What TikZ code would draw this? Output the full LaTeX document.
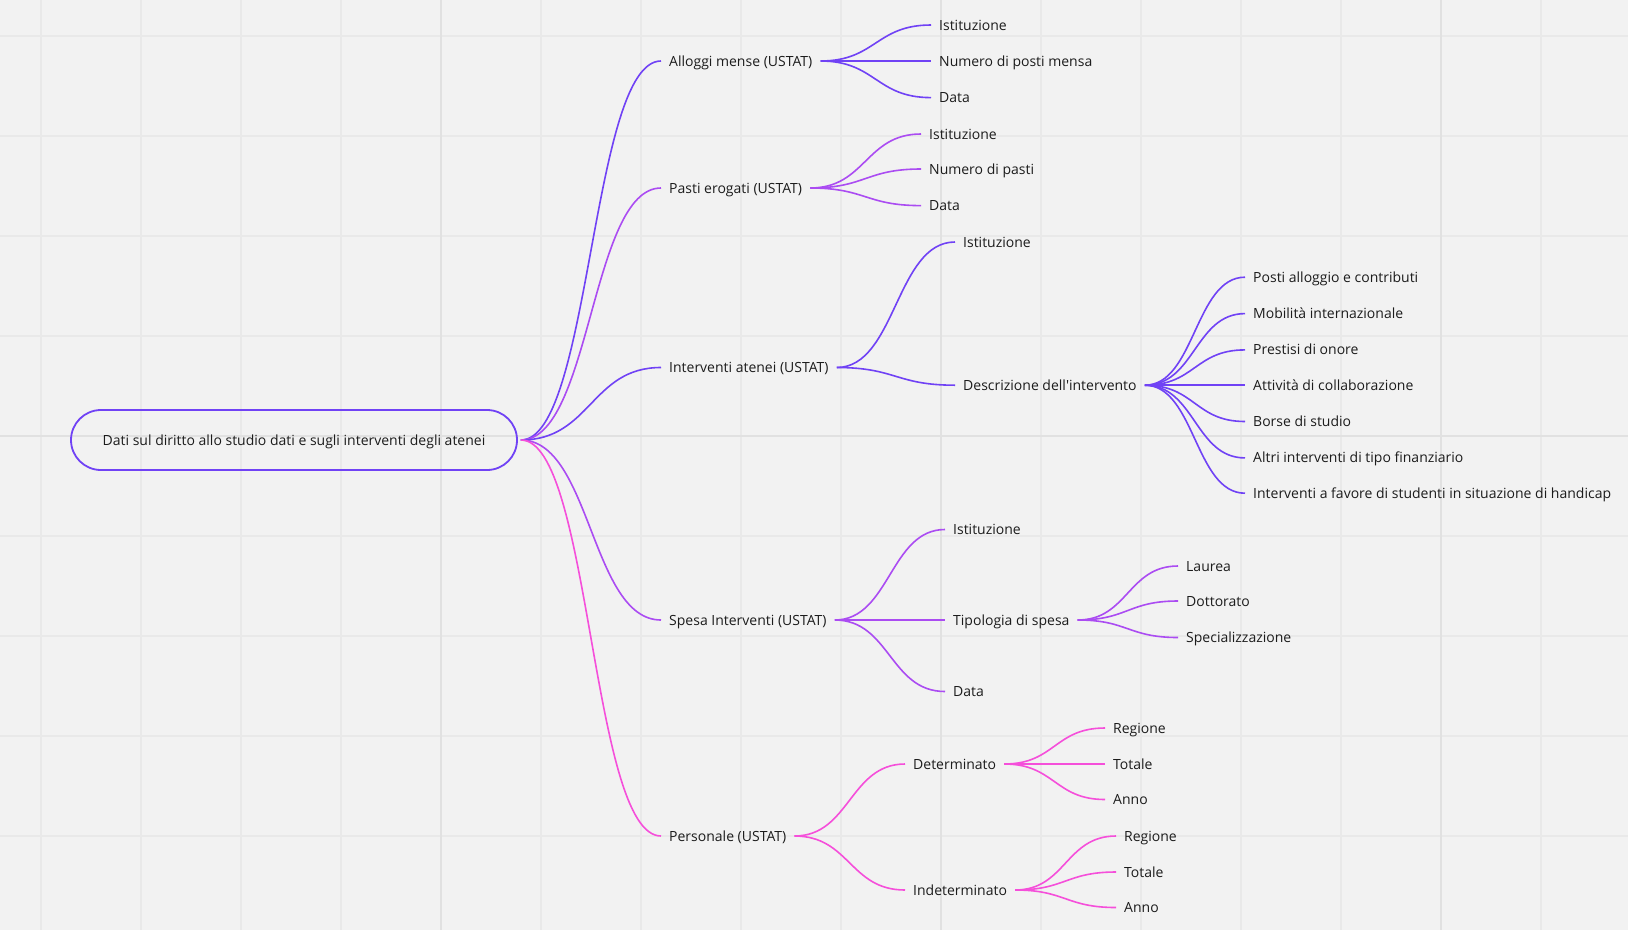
\documentclass[tikz,border=0pt]{standalone}
\usepackage{fontspec}
\setmainfont{Open Sans}
\usetikzlibrary{calc}

\definecolor{sfondo}{HTML}{F2F2F2}
\definecolor{rigalieve}{HTML}{E9E9E9}
\definecolor{rigaforte}{HTML}{E1E1E1}
\definecolor{testo}{HTML}{1C1C1C}
\definecolor{viola}{HTML}{7042F5}
\definecolor{lilla}{HTML}{AB4CF2}
\definecolor{rosa}{HTML}{F54FDA}

\tikzset{
  voce/.style={anchor=west, inner xsep=8pt, inner ysep=2pt, text=testo,
    font=\fontsize{14}{17}\selectfont, text height=10pt, text depth=0pt},
  radice/.style={draw=viola, line width=1.8pt, rounded corners=30pt,
    minimum width=446pt, minimum height=60pt, text=testo,
    font=\fontsize{14}{17}\selectfont, text height=10pt, text depth=0pt},
  ramo/.style={line width=1.6pt, to path={let \p1=(\tikztostart), \p2=(\tikztotarget) in
    .. controls ({(\x1+\x2)/2},\y1) and ({(\x1+\x2)/2},\y2) .. (\tikztotarget)}},
}

\begin{document}
\begin{tikzpicture}[x=1pt, y=-1pt]
    % Sfondo e griglia
    \fill[sfondo] (0,0) rectangle (1628,930);
    \useasboundingbox (0,0) rectangle (1628,930);
    \foreach \gx in {41,141,...,1641} \draw[rigalieve, line width=1.2pt] (\gx,0) -- (\gx,930);
    \foreach \gy in {36,136,...,936} \draw[rigalieve, line width=1.2pt] (0,\gy) -- (1628,\gy);
    \foreach \gx in {441,941,1441} \draw[rigaforte, line width=1.4pt] (\gx,0) -- (\gx,930);
    \draw[rigaforte, line width=1.4pt] (0,436) -- (1628,436);

    % Nodo radice
    \node[radice] (root) at (294,440) {Dati sul diritto allo studio dati e sugli interventi degli atenei};
    \coordinate (rootout) at ([xshift=3pt]root.east);

    % Primo livello
    \node[voce] (alloggi) at (661,61) {Alloggi mense (USTAT)};
    \node[voce] (pasti) at (661,188) {Pasti erogati (USTAT)};
    \node[voce] (atenei) at (661,367.5) {Interventi atenei (USTAT)};
    \node[voce] (spesa) at (661,620) {Spesa Interventi (USTAT)};
    \node[voce] (personale) at (661,836) {Personale (USTAT)};
    \draw[ramo, viola] (rootout) to (alloggi.west);
    \draw[ramo, lilla] (rootout) to (pasti.west);
    \draw[ramo, viola] (rootout) to (atenei.west);
    \draw[ramo, lilla] (rootout) to (spesa.west);
    \draw[ramo, rosa] (rootout) to (personale.west);

    % Alloggi mense
    \node[voce] (allist) at (931,25) {Istituzione};
    \node[voce] (allposti) at (931,61) {Numero di posti mensa};
    \node[voce] (alldata) at (931,97.6) {Data};
    \draw[ramo, viola] (alloggi.east) to (allist.west);
    \draw[ramo, viola] (alloggi.east) to (allposti.west);
    \draw[ramo, viola] (alloggi.east) to (alldata.west);

    % Pasti erogati
    \node[voce] (pasist) at (921,134) {Istituzione};
    \node[voce] (pasnum) at (921,169) {Numero di pasti};
    \node[voce] (pasdata) at (921,205.6) {Data};
    \draw[ramo, lilla] (pasti.east) to (pasist.west);
    \draw[ramo, lilla] (pasti.east) to (pasnum.west);
    \draw[ramo, lilla] (pasti.east) to (pasdata.west);

    % Interventi atenei
    \node[voce] (ateist) at (955,242) {Istituzione};
    \node[voce] (descr) at (955,385.2) {Descrizione dell\textquotesingle intervento};
    \draw[ramo, viola] (atenei.east) to (ateist.west);
    \draw[ramo, viola] (atenei.east) to (descr.west);

    % Descrizione dell'intervento
    \node[voce] (desposti) at (1245,277.2) {Posti alloggio e contributi};
    \node[voce] (desmob) at (1245,313.6) {Mobilità internazionale};
    \node[voce] (despres) at (1245,349.9) {Prestisi di onore};
    \node[voce] (descoll) at (1245,385.2) {Attività di collaborazione};
    \node[voce] (desborse) at (1245,421.5) {Borse di studio};
    \node[voce] (desaltri) at (1245,457.9) {Altri interventi di tipo finanziario};
    \node[voce] (deshand) at (1245,493.2) {Interventi a favore di studenti in situazione di handicap};
    \draw[ramo, viola] (descr.east) to (desposti.west);
    \draw[ramo, viola] (descr.east) to (desmob.west);
    \draw[ramo, viola] (descr.east) to (despres.west);
    \draw[ramo, viola] (descr.east) to (descoll.west);
    \draw[ramo, viola] (descr.east) to (desborse.west);
    \draw[ramo, viola] (descr.east) to (desaltri.west);
    \draw[ramo, viola] (descr.east) to (deshand.west);

    % Spesa interventi
    \node[voce] (speist) at (945,529.5) {Istituzione};
    \node[voce] (tipo) at (945,620) {Tipologia di spesa};
    \node[voce] (spedata) at (945,691.5) {Data};
    \draw[ramo, lilla] (spesa.east) to (speist.west);
    \draw[ramo, lilla] (spesa.east) to (tipo.west);
    \draw[ramo, lilla] (spesa.east) to (spedata.west);

    % Tipologia di spesa
    \node[voce] (tiplau) at (1178,566) {Laurea};
    \node[voce] (tipdot) at (1178,601) {Dottorato};
    \node[voce] (tipspe) at (1178,637.5) {Specializzazione};
    \draw[ramo, lilla] (tipo.east) to (tiplau.west);
    \draw[ramo, lilla] (tipo.east) to (tipdot.west);
    \draw[ramo, lilla] (tipo.east) to (tipspe.west);

    % Personale
    \node[voce] (det) at (905,764) {Determinato};
    \node[voce] (indet) at (905,890) {Indeterminato};
    \draw[ramo, rosa] (personale.east) to (det.west);
    \draw[ramo, rosa] (personale.east) to (indet.west);

    % Determinato
    \node[voce] (detreg) at (1105,728) {Regione};
    \node[voce] (dettot) at (1105,764) {Totale};
    \node[voce] (detanno) at (1105,799.5) {Anno};
    \draw[ramo, rosa] (det.east) to (detreg.west);
    \draw[ramo, rosa] (det.east) to (dettot.west);
    \draw[ramo, rosa] (det.east) to (detanno.west);

    % Indeterminato
    \node[voce] (indreg) at (1116,836) {Regione};
    \node[voce] (indtot) at (1116,872) {Totale};
    \node[voce] (indanno) at (1116,907.5) {Anno};
    \draw[ramo, rosa] (indet.east) to (indreg.west);
    \draw[ramo, rosa] (indet.east) to (indtot.west);
    \draw[ramo, rosa] (indet.east) to (indanno.west);
\end{tikzpicture}
\end{document}
